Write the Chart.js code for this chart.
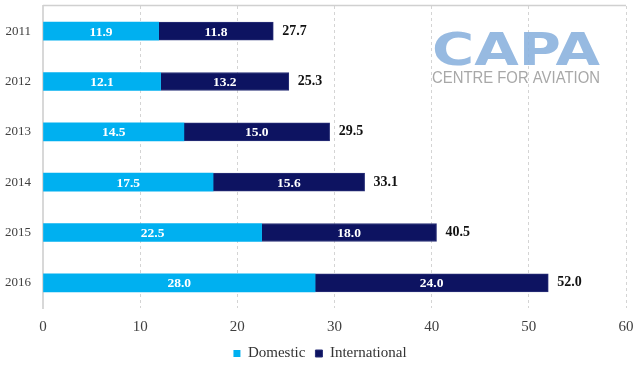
<!DOCTYPE html>
<html>
<head>
<meta charset="utf-8">
<script src="https://cdn.jsdelivr.net/npm/chart.js@4/dist/chart.umd.min.js"></script>
<style>
  html, body { margin: 0; padding: 0; background: #fff; }
  #wrap { width: 640px; height: 369px; }
</style>
</head>
<body>
<div id="wrap"><canvas id="chart"></canvas></div>
<script>
// data
const years = ['2011', '2012', '2013', '2014', '2015', '2016'];
const domestic = [11.9, 12.1, 14.5, 17.5, 22.5, 28.0];
const international = [11.8, 13.2, 15.0, 15.6, 18.0, 24.0];
const totals = [27.7, 25.3, 29.5, 33.1, 40.5, 52.0];
const xTicks = [0, 10, 20, 30, 40, 50, 60];

const FONT = '"Liberation Serif", "DejaVu Serif", serif';

// values inside the bars + totals at the end of each bar
const labelsPlugin = {
  id: 'labels',
  afterDatasetsDraw(chart) {
    const ctx = chart.ctx;
    ctx.save();
    ctx.textBaseline = 'middle';
    ctx.font = 'bold 13.5px ' + FONT;
    chart.data.datasets.forEach((ds, i) => {
      const meta = chart.getDatasetMeta(i);
      meta.data.forEach((bar, j) => {
        ctx.fillStyle = '#ffffff';
        ctx.textAlign = 'center';
        ctx.fillText(ds.data[j].toFixed(1), (bar.x + bar.base) / 2, bar.y + 1);
      });
    });
    ctx.font = 'bold 14px ' + FONT;
    const last = chart.getDatasetMeta(chart.data.datasets.length - 1);
    last.data.forEach((bar, j) => {
      ctx.fillStyle = '#111111';
      ctx.textAlign = 'left';
      ctx.fillText(totals[j].toFixed(1), bar.x + 9, bar.y);
    });
    ctx.restore();
  }
};

// CAPA logo drawn as text + thin line along the top of the plot
const logoPlugin = {
  id: 'logo',
  afterDraw(chart) {
    const { ctx, chartArea } = chart;
    ctx.save();
    ctx.strokeStyle = '#d0d0d0';
    ctx.lineWidth = 1.5;
    ctx.beginPath();
    const yTop = Math.round(chartArea.top) - 0.5;
    ctx.moveTo(chartArea.left, yTop);
    ctx.lineTo(chartArea.right, yTop);
    ctx.stroke();
    ctx.restore();

    ctx.save();
    ctx.globalAlpha = 0.9;
    ctx.fillStyle = '#8cb3de';
    ctx.font = 'bold 44px "DejaVu Sans", sans-serif';
    ctx.textBaseline = 'alphabetic';
    ctx.textAlign = 'left';
    const w = ctx.measureText('CAPA').width;
    ctx.translate(432, 65);
    ctx.scale(168 / w, 1);
    ctx.fillText('CAPA', 0, 0);
    ctx.restore();

    ctx.save();
    ctx.fillStyle = '#a8a8a8';
    ctx.font = '17px "Liberation Sans", sans-serif';
    ctx.textBaseline = 'alphabetic';
    const w2 = ctx.measureText('CENTRE FOR AVIATION').width;
    ctx.translate(432, 83);
    ctx.scale(168 / w2, 1);
    ctx.fillText('CENTRE FOR AVIATION', 0, 0);
    ctx.restore();
  }
};

new Chart(document.getElementById('chart'), {
  type: 'bar',
  data: {
    labels: years,
    datasets: [
      {
        label: 'Domestic',
        data: domestic,
        backgroundColor: '#00b0f0',
        barThickness: 18,
      },
      {
        label: 'International',
        data: international,
        backgroundColor: '#0d1361',
        borderColor: '#2a3078',
        borderWidth: 1,
        barThickness: 18,
      },
    ]
  },
  options: {
    indexAxis: 'y',
    responsive: true,
    maintainAspectRatio: false,
    animation: false,
    layout: { padding: { top: 6, right: 0, left: 0, bottom: -2 } },
    scales: {
      x: {
        stacked: true,
        min: 0,
        max: 60,
        afterBuildTicks: (axis) => { axis.ticks = xTicks.map(v => ({ value: v })); },
        afterFit: (axis) => {
          axis.paddingRight = 14;
          axis.height = 28;
        },
        grid: {
          color: '#d4d4d4',
          drawTicks: false,
        },
        border: { display: false, dash: [3, 3] },
        ticks: {
          padding: 10,
          color: '#404040',
          font: { family: FONT, size: 15 },
        },
      },
      y: {
        stacked: true,
        grid: { display: false, drawTicks: false },
        border: { color: '#d8d8d8', width: 2 },
        afterFit: (axis) => {
          axis.width = 43;
          axis.paddingTop = 0;
          axis.paddingBottom = 0;
        },
        ticks: {
          padding: 12,
          color: '#404040',
          font: { family: FONT, size: 13 },
        },
      },
    },
    plugins: {
      legend: {
        position: 'bottom',
        labels: {
          boxWidth: 7,
          boxHeight: 7,
          padding: 10,
          color: '#333333',
          font: { family: FONT, size: 15 },
        },
      },
      tooltip: { enabled: false },
    },
  },
  plugins: [labelsPlugin, logoPlugin]
});
</script>
</body>
</html>
